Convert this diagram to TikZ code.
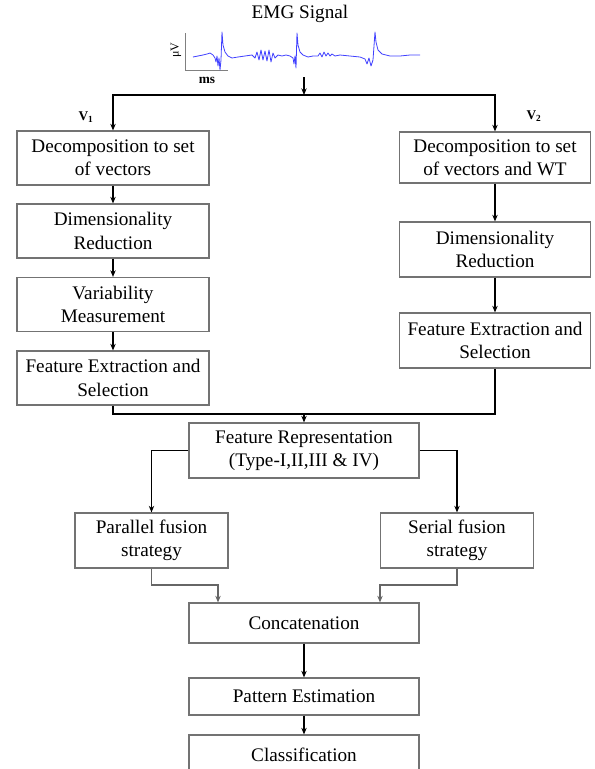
\documentclass[tikz,border=0pt]{standalone}
\usepackage{fontspec}
\setmainfont{Liberation Serif}
\usetikzlibrary{arrows.meta, positioning, calc}

\begin{document}
\begin{tikzpicture}[
  x=0.75pt, y=-0.75pt,
  box/.style={draw=black!55, line width=0.8pt, rectangle, align=center, inner sep=1pt,
    font=\fontsize{14.4}{17.5}\selectfont, minimum width=144pt, minimum height=40.5pt},
  arr/.style={-{Stealth[length=5pt,width=4pt]}, line width=1.1pt},
  ln/.style={line width=1.1pt},
  garr/.style={-{Stealth[length=5pt,width=4pt]}, draw=black!60, line width=0.8pt},
  lbl/.style={font=\fontsize{10}{12}\selectfont\bfseries}
]
\clip (0,0) rectangle (594,769);

% signal
\node[font=\fontsize{14.4}{17}\selectfont] (title) at (300,14) {EMG Signal};
\draw[black!50, line width=0.6pt] (185,33) -- (185,70) -- (228,70);
\node[rotate=90, font=\fontsize{9}{10}\selectfont] (uv) at (176,50) {μV};
\node[lbl] (ms) at (207,80) {ms};
\draw[blue!75, line width=0.6pt, line join=round]
  plot coordinates {(193,57) (198,56) (203,55) (207,54) (210,53) (213,55) (215,58) (216,62)
  (217,56) (218,66) (219,58) (220,70) (221,60) (222,32) (223,45) (225,52) (228,56) (232,58)
  (238,57) (245,56) (252,55) (255,58) (257,52) (259,60) (261,50) (263,60) (265,51) (267,61)
  (269,50) (271,62) (273,53) (275,58) (278,55) (282,56) (286,55) (290,56) (293,58) (294,64)
  (295,56) (296,68) (297,33) (298,45) (300,52) (303,55) (308,57) (313,56) (318,56) (320,53)
  (322,57) (324,52) (326,56) (328,53) (330,56) (332,54) (335,56) (340,55) (350,56) (360,57)
  (365,59) (367,64) (369,58) (371,66) (373,60) (375,32) (376,42) (378,50) (382,54) (390,56)
  (400,56) (410,55) (420,55)};

% left branch
\node[box] (d1) at (113,158) {Decomposition to set\\of vectors};
\node[box] (r1) at (113,231) {Dimensionality\\Reduction};
\node[box] (v1) at (113,304.5) {Variability\\Measurement};
\node[box] (f1) at (113,378) {Feature Extraction and\\Selection};

% right branch
\node[box, minimum width=143.25pt, minimum height=38.25pt] (d2) at (495,157.5) {Decomposition to set\\of vectors and WT};
\node[box, minimum width=143.25pt, minimum height=41.25pt] (r2) at (495,249.5) {Dimensionality\\Reduction};
\node[box, minimum width=143.25pt, minimum height=41.25pt] (f2) at (495,340.5) {Feature Extraction and\\Selection};

\node[lbl] (lv1) at (86,117) {V\textsubscript{1}};
\node[lbl] (lv2) at (534,116) {V\textsubscript{2}};

% fusion part
\node[box, minimum width=172.5pt, minimum height=41.25pt] (rep) at (304,450.5) {Feature Representation\\(Type-I,II,III \& IV)};
\node[box, minimum width=114.75pt, minimum height=41.25pt] (par) at (151.5,540.5) {Parallel fusion\\strategy};
\node[box, minimum width=114.75pt, minimum height=41.25pt] (ser) at (457,540.5) {Serial fusion\\strategy};
\node[box, minimum width=172.5pt, minimum height=30pt] (cat) at (304,623) {Concatenation};
\node[box, minimum width=172.5pt, minimum height=27.75pt] (pat) at (304,696.5) {Pattern Estimation};
\node[box, minimum width=172.5pt, minimum height=30pt] (cls) at (304,755) {Classification};

\coordinate (sig) at (304,77);
\coordinate (split) at (304,95);
\coordinate (mrg) at (304,414);
\coordinate (cl) at (218,585);
\coordinate (cr) at (380,585);

\draw[arr] (sig) -- (split);
\draw[arr] (split) -| (d1.north);
\draw[arr] (split) -| (d2.north);
\draw[arr] (d1) -- (r1);
\draw[arr] (r1) -- (v1);
\draw[arr] (v1) -- (f1);
\draw[arr] (d2) -- (r2);
\draw[arr] (r2) -- (f2);
\draw[ln] (f1.south) |- (mrg) -| (f2.south);
\draw[arr] (mrg) -- (rep.north);
\draw[arr] (rep.west) -| (par.north);
\draw[arr] (rep.east) -| (ser.north);
\draw[garr] (par.south) |- (cl) -- (cl |- cat.north);
\draw[garr] (ser.south) |- (cr) -- (cr |- cat.north);
\draw[arr] (cat) -- (pat);
\draw[arr] (pat) -- (cls);
\end{tikzpicture}
\end{document}
